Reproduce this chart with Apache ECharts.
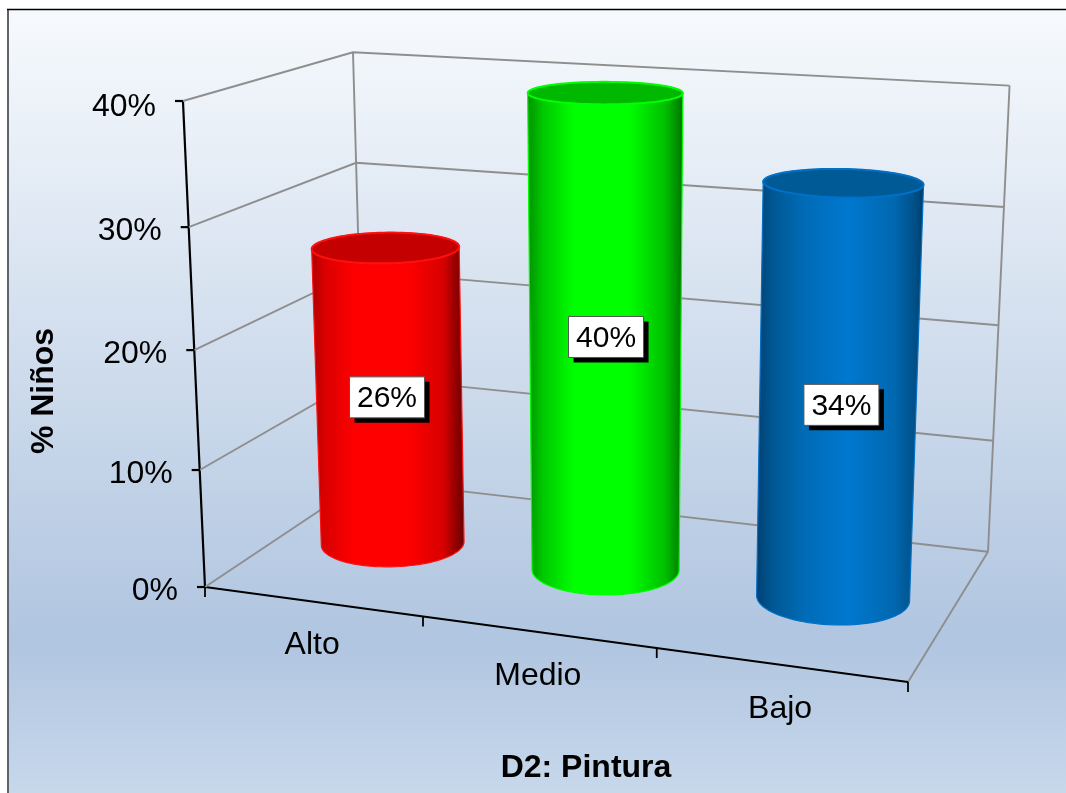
<!DOCTYPE html>
<html><head><meta charset="utf-8">
<style>html,body{margin:0;padding:0;background:#fff}#c{width:1066px;height:793px}</style>
<script src="https://cdn.jsdelivr.net/npm/echarts@6/dist/echarts.min.js"></script>
</head><body><div id="c"></div>
<script>
const categories = ['Alto', 'Medio', 'Bajo'];
const values = [26, 40, 34];
const yTicks = [0, 10, 20, 30, 40];
const barColors = ['#ff0000', '#00ff00', '#0070c0'];
const xTitle = 'D2: Pintura';
const yTitle = '% Niños';

const FONT = '"Liberation Sans", Arial, sans-serif';
const GRID = { left: 205, top: 195, width: 762, height: 392 };
const YMAX = yTicks[yTicks.length - 1];
const LABEL_SHIFT = [[-1, 0], [2, 0], [5, 10]];

// Perspective camera for the unit box (u along categories, v along values, d into the page)
const O = [205, 587], WX = [816.3, 613.1, 0.899], WY = [174, 96.05, 0.951], WZ = [416.6, 548, 1.1414];
function project(u, v, d) {
  const w = 1 + u * (WX[2] - 1) + v * (WY[2] - 1) + d * (WZ[2] - 1);
  const x = O[0] + u * (WX[0] - O[0]) + v * (WY[0] - O[0]) + d * (WZ[0] - O[0]);
  const y = O[1] + u * (WX[1] - O[1]) + v * (WY[1] - O[1]) + d * (WZ[1] - O[1]);
  const k = u * d * Math.min(1, v * 4);
  return [x / w + 4 * k * v, y / w + 1.8 * k];
}
function toUnit(api, pt) {
  const p = api.coord(pt), a = api.coord([0, 0]), b = api.coord([0, YMAX]);
  return [(p[0] - GRID.left) / GRID.width, (a[1] - p[1]) / (a[1] - b[1])];
}
const GRAY = { stroke: '#8e8e8e', lineWidth: 1.9, fill: null };
const BLACK = { stroke: '#000', lineWidth: 2.2, fill: null };
function poly(points, style) { return { type: 'polyline', shape: { points }, style }; }
function line(a, b, style) { return { type: 'line', shape: { x1: a[0], y1: a[1], x2: b[0], y2: b[1] }, style }; }

function renderWalls(params, api) {
  const v = toUnit(api, [0, api.value(1)])[1];
  const front = project(0, v, 0);
  const ch = [
    poly([front, project(0, v, 1), project(1, v, 1)], GRAY),
    line([front[0] - 8, front[1]], front, BLACK),
    { type: 'text', x: front[0] - 27, y: front[1] + (api.value(1) === YMAX ? 6.5 : 4),
      style: { text: api.value(1) + '%', font: '32px ' + FONT, fill: '#000', align: 'right', verticalAlign: 'middle' } }
  ];
  if (params.dataIndex === 0) {
    ch.unshift(
      line(project(0, 0, 1), project(0, 1, 1), GRAY),
      line(project(1, 0, 1), project(1, 1, 1), GRAY),
      line(project(1, 0, 0), project(1, 0, 1), GRAY),
      line(project(0, 0, 0), project(0, 1, 0), BLACK),
      line(project(0, 0, 0), project(1, 0, 0), BLACK)
    );
    const n = categories.length;
    for (let i = 0; i <= n; i++) {
      const p = project(i / n, 0, 0);
      ch.push(line(p, [p[0], p[1] + 10], { stroke: '#000', lineWidth: 1.8 }));
    }
  }
  return { type: 'group', children: ch };
}

function renderCatLabels(params, api) {
  const u = toUnit(api, [api.value(0), 0])[0];
  const p = project(u, 0, 0);
  return { type: 'text', x: p[0], y: p[1] + 44,
    style: { text: categories[api.value(0)], font: '32px ' + FONT, fill: '#000', align: 'center', verticalAlign: 'middle' } };
}

const RU = 0.105, RD = 0.2, STEPS = 96, U_NUDGE = 0.002;
const SHADES = {
  '#ff0000': { cap: '#c40000', rim: '#ff1010', body: [[0, '#a80000'], [.08, '#d80000'], [.28, '#ff0000'], [.62, '#ff0000'], [.86, '#d80000'], [.96, '#860000'], [1, '#6a0000']] },
  '#00ff00': { cap: '#00b800', rim: '#00ff00', body: [[0, '#009000'], [.1, '#00c800'], [.3, '#00ff00'], [.65, '#00ff00'], [.88, '#00c000'], [.97, '#008800'], [1, '#006a00']] },
  '#0070c0': { cap: '#005a96', rim: '#0070c8', body: [[0, '#003f70'], [.1, '#005894'], [.3, '#006cb8'], [.55, '#0078cf'], [.82, '#0068b0'], [.95, '#004f86'], [1, '#003a66']] }
};
function circle(u, v, d) {
  const pts = [];
  for (let i = 0; i < STEPS; i++) {
    const t = i / STEPS * Math.PI * 2;
    pts.push(project(u + RU * Math.cos(t), v, d + RD * Math.sin(t)));
  }
  return pts;
}
// the part of a projected circle between its leftmost and rightmost points
function arc(pts, lower) {
  let l = 0, r = 0;
  pts.forEach((p, i) => { if (p[0] < pts[l][0]) l = i; if (p[0] > pts[r][0]) r = i; });
  const a = [], b = [];
  for (let i = l; ; i = (i + 1) % STEPS) { a.push(pts[i]); if (i === r) break; }
  for (let i = r; ; i = (i + 1) % STEPS) { b.push(pts[i]); if (i === l) break; }
  const ay = a.reduce((s, p) => s + p[1], 0) / a.length, by = b.reduce((s, p) => s + p[1], 0) / b.length;
  const lo = ay > by ? a : b, up = ay > by ? b : a;
  return (lower ? lo : up);
}
function renderCylinder(params, api) {
  const i = api.value(0), val = api.value(1);
  const [u0, v] = toUnit(api, [i, val]);
  const u = u0 + U_NUDGE;
  const shade = SHADES[barColors[i]];
  const top = circle(u, v, 0.5), bot = circle(u, 0, 0.5);
  const topUp = arc(top, false), botLo = arc(bot, true);
  // order: go left-to-right along the top, then right-to-left along the bottom
  const lr = a => a[0][0] < a[a.length - 1][0] ? a : a.slice().reverse();
  const body = lr(topUp).concat(lr(botLo).reverse());
  const c0 = project(u0, v / 2, 0.5);
  const c = [c0[0] + LABEL_SHIFT[i][0], c0[1] + LABEL_SHIFT[i][1]];
  const W = 75, H = 41;
  const stops = shade.body.map(s => ({ offset: s[0], color: s[1] }));
  return { type: 'group', children: [
    { type: 'polygon', shape: { points: body },
      style: { fill: { type: 'linear', x: 0, y: 0, x2: 1, y2: 0, colorStops: stops }, stroke: shade.rim, lineWidth: 1.2 } },
    { type: 'polygon', shape: { points: top }, style: { fill: shade.cap, stroke: shade.rim, lineWidth: 2 } },
    { type: 'rect', shape: { x: c[0] - W / 2 + 5, y: c[1] - H / 2 + 5, width: W, height: H }, style: { fill: '#000' } },
    { type: 'rect', shape: { x: c[0] - W / 2, y: c[1] - H / 2, width: W, height: H }, style: { fill: '#fff', stroke: '#555', lineWidth: 1 } },
    { type: 'text', x: c[0], y: c[1] + 1.5,
      style: { text: val + '%', font: '30px ' + FONT, fill: '#000', align: 'center', verticalAlign: 'middle' } }
  ] };
}

const chart = echarts.init(document.getElementById('c'), null, { renderer: 'canvas' });
chart.setOption({
  animation: false,
  backgroundColor: '#fff',
  graphic: [
    { type: 'rect', z: -2, shape: { x: 8, y: 10, width: 1058, height: 783 }, silent: true,
      style: { fill: { type: 'linear', x: 0, y: 0, x2: 0, y2: 1, colorStops: [
        { offset: 0, color: '#f7fafd' }, { offset: 0.805, color: '#b0c5e0' }, { offset: 1, color: '#c7d8eb' } ] } } },
    { type: 'line', z: -1, silent: true, shape: { x1: 8, y1: 9, x2: 8, y2: 793 }, style: { stroke: '#5f646c', lineWidth: 2 } },
    { type: 'line', z: -1, silent: true, shape: { x1: 7, y1: 9.5, x2: 1066, y2: 9.5 }, style: { stroke: '#000', lineWidth: 1.4 } }
  ],
  grid: GRID,
  xAxis: { type: 'category', data: categories, name: xTitle, nameLocation: 'middle', nameGap: 165,
    nameTextStyle: { fontFamily: FONT, fontWeight: 'bold', fontSize: 32, color: '#000' },
    axisLine: { show: false }, axisTick: { show: false }, axisLabel: { show: false } },
  yAxis: { type: 'value', min: 0, max: YMAX, interval: 10, name: yTitle, nameLocation: 'middle', nameGap: 145, nameRotate: 90,
    nameTextStyle: { fontFamily: FONT, fontWeight: 'bold', fontSize: 32, color: '#000' },
    axisLine: { show: false }, axisTick: { show: false }, axisLabel: { show: false }, splitLine: { show: false } },
  series: [
    { type: 'custom', name: 'walls', silent: true, clip: false, z: 2, renderItem: renderWalls,
      encode: { x: 0, y: 1 }, data: yTicks.map(t => [0, t]) },
    { type: 'custom', name: 'labels', silent: true, clip: false, z: 2, renderItem: renderCatLabels,
      encode: { x: 0, y: 1 }, data: categories.map((c, i) => [i, 0]) },
    { type: 'custom', name: 'bars', silent: true, clip: false, z: 3, renderItem: renderCylinder,
      encode: { x: 0, y: 1 }, data: values.map((v, i) => [i, v]) }
  ]
});
</script></body></html>
